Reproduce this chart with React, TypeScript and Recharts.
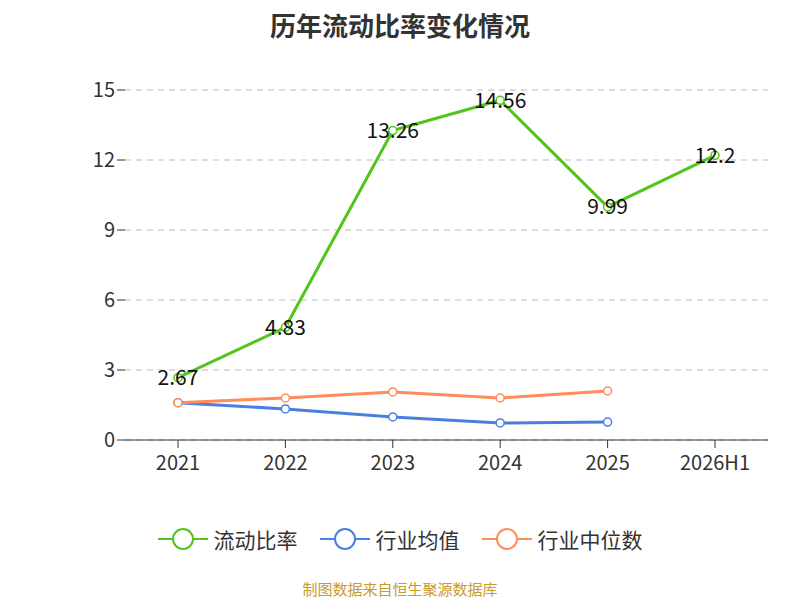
import { CartesianGrid, LabelList, Line, LineChart, XAxis, YAxis } from "recharts";

const years = ["2021", "2022", "2023", "2024", "2025", "2026H1"];
const ratio = [2.67, 4.83, 13.26, 14.56, 9.99, 12.2];
const industryAvg = [1.6, 1.33, 0.99, 0.73, 0.77, null];
const industryMedian = [1.6, 1.8, 2.06, 1.8, 2.1, null];
const yTicks = [0, 3, 6, 9, 12, 15];

const data = years.map((year, i) => ({
	year,
	ratio: ratio[i],
	avg: industryAvg[i],
	median: industryMedian[i],
}));

const series = [
	{ key: "ratio", name: "流动比率", color: "#52c41a" },
	{ key: "avg", name: "行业均值", color: "#4a7fe0" },
	{ key: "median", name: "行业中位数", color: "#ff8c5a" },
];

const font = "'Noto Sans CJK SC', 'Noto Sans', sans-serif";

function LegendContent() {
	return (
		<div style={{ display: "flex", justifyContent: "center", gap: 22, fontFamily: font, fontSize: 21, color: "#333" }}>
			{series.map((s) => (
				<div key={s.key} style={{ display: "flex", alignItems: "center", gap: 6 }}>
					<svg width={50} height={24}>
						<line x1={0} y1={12} x2={50} y2={12} stroke={s.color} strokeWidth={2} />
						<circle cx={25} cy={12} r={10} fill="#fff" stroke={s.color} strokeWidth={2} />
					</svg>
					<span>{s.name}</span>
				</div>
			))}
		</div>
	);
}

export default function App() {
	return (
		<div style={{ position: "absolute", left: 0, top: 0, width: 800, height: 600, background: "#fff", fontFamily: font }}>
			<div style={{ position: "absolute", top: 6, width: 800, textAlign: "center", fontSize: 26, fontWeight: 700, color: "#333" }}>
				历年流动比率变化情况
			</div>
			<LineChart width={800} height={600} data={data} margin={{ top: 90, right: 32, bottom: 40, left: 65 }}>
				<CartesianGrid vertical={false} stroke="#bbb" strokeDasharray="6 5" />
				<XAxis
					dataKey="year"
					height={120}
					stroke="#333"
					padding={{ left: 53, right: 53 }}
					tick={{ fill: "#333", fontSize: 20, dy: 6 }}
					tickSize={8}
				/>
				<YAxis
					width={60}
					domain={[0, 15]}
					ticks={yTicks}
					axisLine={false}
					tickLine={{ stroke: "#333" }}
					tickSize={8}
					tick={{ fill: "#333", fontSize: 20 }}
				/>
				{series.map((s) => (
					<Line
						key={s.key}
						dataKey={s.key}
						stroke={s.color}
						strokeWidth={3}
						dot={{ r: 4, fill: "#fff", stroke: s.color, strokeWidth: 1.5 }}
						isAnimationActive={false}
					>
						{s.key === "ratio" && (
							<LabelList dataKey="ratio" position="center" fill="#111" fontSize={21} />
						)}
					</Line>
				))}
			</LineChart>
			<div style={{ position: "absolute", top: 524, width: 800 }}>
				<LegendContent />
			</div>
			<div style={{ position: "absolute", top: 578, width: 800, textAlign: "center", fontSize: 15, color: "#c89a30" }}>
				制图数据来自恒生聚源数据库
			</div>
		</div>
	);
}
